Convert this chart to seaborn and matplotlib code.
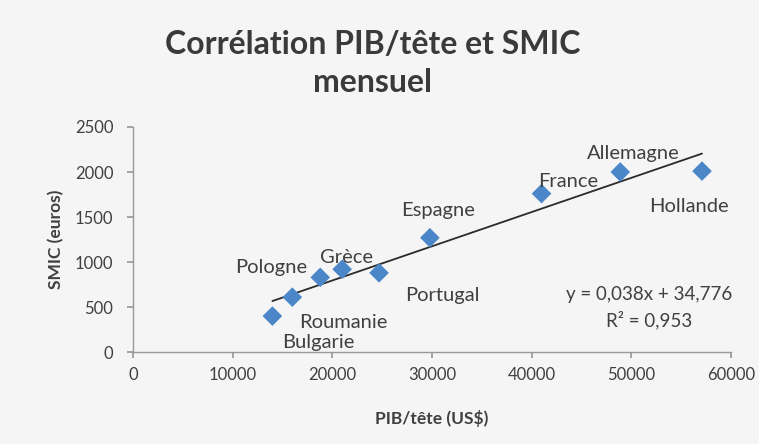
import matplotlib
matplotlib.use("Agg")
import matplotlib.pyplot as plt
import seaborn as sns
import numpy as np
import pandas as pd

countries = ["Bulgarie", "Roumanie", "Pologne", "Grèce", "Portugal", "Espagne",
             "France", "Allemagne", "Hollande"]
pib = [14000, 16000, 18800, 21000, 24700, 29800, 41000, 48900, 57100]
smic = [400, 610, 830, 920, 880, 1270, 1760, 2000, 2010]
slope = 0.038
intercept = 34.776
r2 = 0.953
xticks = [0, 10000, 20000, 30000, 40000, 50000, 60000]
yticks = [0, 500, 1000, 1500, 2000, 2500]
title_lines = ["Corrélation PIB/tête et SMIC", "mensuel"]

# label anchor positions (data coords)
label_pos = {
    "Bulgarie": (18600, 110), "Roumanie": (21100, 325), "Pologne": (13900, 937),
    "Grèce": (21400, 1052), "Portugal": (31100, 633), "Espagne": (30600, 1578),
    "France": (43700, 1892), "Allemagne": (50200, 2207), "Hollande": (55800, 1615),
}

sns.set_theme(style="white")
plt.rcParams["font.family"] = ["Lato", "DejaVu Sans"]
txt = "#404040"
bg = "#f5f5f5"

fig = plt.figure(figsize=(7.59, 4.44), dpi=100, facecolor=bg)
ax = fig.add_axes([0.175, 0.207, 0.788, 0.507], facecolor=bg)

df = pd.DataFrame({"pib": pib, "smic": smic, "pays": countries})
sns.scatterplot(data=df, x="pib", y="smic", marker="D", s=100, color="#4a86c8",
                edgecolor="none", ax=ax, zorder=3)

xs = np.array([min(pib), max(pib)])
ax.plot(xs, slope * xs + intercept, color="#2a2a2a", lw=1.3, zorder=2)

for c in countries:
    x, y = label_pos[c]
    ax.text(x, y, c, ha="center", va="center", fontsize=14.5, color=txt)

ax.text(51800, 644, "y = 0,038x + 34,776", ha="center", va="center", fontsize=13.5, color=txt)
ax.text(51800, 355, f"R² = {r2:.3f}".replace(".", ","), ha="center", va="center",
        fontsize=13.5, color=txt)

ax.set_xlim(0, 60000)
ax.set_ylim(0, 2500)
ax.set_xticks(xticks)
ax.set_yticks(yticks)
ax.tick_params(axis="both", labelsize=12, labelcolor=txt, length=4, color="#999999",
               direction="out", bottom=True, left=True)
ax.tick_params(axis="x", pad=7)
ax.tick_params(axis="y", pad=10)
for s in ["top", "right"]:
    ax.spines[s].set_visible(False)
for s in ["left", "bottom"]:
    ax.spines[s].set_color("#999999")
    ax.spines[s].set_linewidth(1.0)

ax.set_xlabel("PIB/tête (US$)", fontsize=12.5, fontweight="bold", color=txt, labelpad=19)
ax.set_ylabel("SMIC (euros)", fontsize=12.5, fontweight="bold", color=txt, labelpad=8)

fig.text(0.491, 1 - 54 / 444, title_lines[0], ha="center", va="baseline",
         fontsize=23, fontweight="bold", color="#3a3a3a")
fig.text(0.491, 1 - 92 / 444, title_lines[1], ha="center", va="baseline",
         fontsize=23, fontweight="bold", color="#3a3a3a")

fig.savefig("out.png", dpi=100, facecolor=bg)
